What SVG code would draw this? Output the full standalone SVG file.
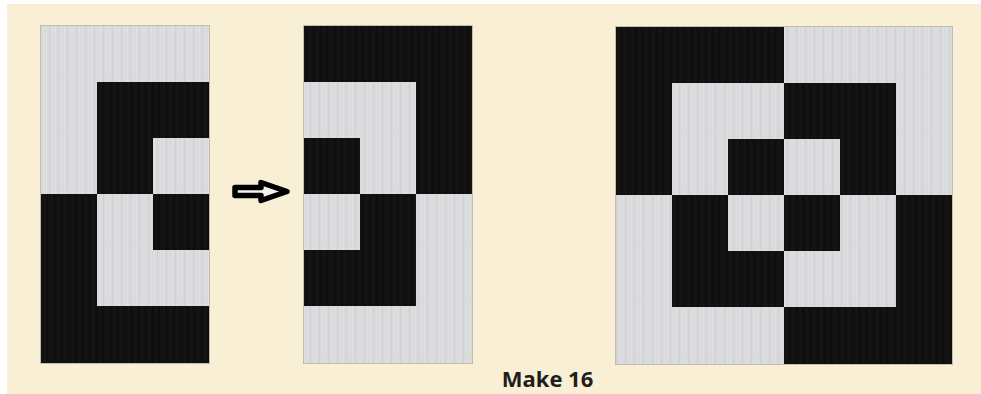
<svg xmlns="http://www.w3.org/2000/svg" width="981" height="394" viewBox="0 0 981 394">
<defs>
<pattern id="lt" patternUnits="userSpaceOnUse" width="9" height="56">
<rect width="9" height="56" fill="#d9dadc"/>
<rect x="1" width="1" height="56" fill="#e4e5e7" opacity="0.7"/>
<rect x="4" width="1" height="56" fill="#cbccd0" opacity="0.6"/>
<rect x="7" width="1" height="56" fill="#e1e2e4" opacity="0.6"/>
<rect x="0" y="20" width="9" height="1" fill="#cfd0d3" opacity="0.4"/>
</pattern>
<pattern id="dk" patternUnits="userSpaceOnUse" width="7" height="56">
<rect width="7" height="56" fill="#111111"/>
<rect x="2" width="1" height="56" fill="#181818" opacity="0.8"/>
<rect x="5" width="1" height="56" fill="#0b0b0b" opacity="0.8"/>
</pattern>
<style>
.l{fill:url(#lt)}
.d{fill:url(#dk)}
.frame{fill:none;stroke:#a9a79c;stroke-width:1;opacity:0.7}
.lbl{font-family:"Open Sans","Liberation Sans",sans-serif;font-weight:bold;font-size:22px;fill:#1e1e1e}
</style>
</defs>
<rect width="981" height="394" fill="#ffffff"/>
<rect x="7" y="4" width="974" height="390" fill="#f8efd4"/>

<g id="block-left">
<rect class="l" x="41" y="26" width="168" height="56"/>
<rect class="l" x="41" y="82" width="56" height="56"/>
<rect class="d" x="97" y="82" width="112" height="56"/>
<rect class="l" x="41" y="138" width="56" height="56"/>
<rect class="d" x="97" y="138" width="56" height="56"/>
<rect class="l" x="153" y="138" width="56" height="56"/>
<rect class="d" x="41" y="194" width="56" height="56"/>
<rect class="l" x="97" y="194" width="56" height="56"/>
<rect class="d" x="153" y="194" width="56" height="56"/>
<rect class="d" x="41" y="250" width="56" height="56"/>
<rect class="l" x="97" y="250" width="112" height="56"/>
<rect class="d" x="41" y="306" width="168" height="57"/>
<rect class="frame" x="40.5" y="25.5" width="169" height="338"/>
</g>

<g id="block-middle">
<rect class="d" x="304" y="26" width="168" height="56"/>
<rect class="l" x="304" y="82" width="112" height="56"/>
<rect class="d" x="416" y="82" width="56" height="56"/>
<rect class="d" x="304" y="138" width="56" height="56"/>
<rect class="l" x="360" y="138" width="56" height="56"/>
<rect class="d" x="416" y="138" width="56" height="56"/>
<rect class="l" x="304" y="194" width="56" height="56"/>
<rect class="d" x="360" y="194" width="56" height="56"/>
<rect class="l" x="416" y="194" width="56" height="56"/>
<rect class="d" x="304" y="250" width="112" height="56"/>
<rect class="l" x="416" y="250" width="56" height="56"/>
<rect class="l" x="304" y="306" width="168" height="57"/>
<rect class="frame" x="303.5" y="25.5" width="169" height="338"/>
</g>

<g id="block-right">
<rect class="d" x="616" y="27" width="168" height="56"/>
<rect class="l" x="784" y="27" width="168" height="56"/>
<rect class="d" x="616" y="83" width="56" height="56"/>
<rect class="l" x="672" y="83" width="112" height="56"/>
<rect class="d" x="784" y="83" width="112" height="56"/>
<rect class="l" x="896" y="83" width="56" height="56"/>
<rect class="d" x="616" y="139" width="56" height="56"/>
<rect class="l" x="672" y="139" width="56" height="56"/>
<rect class="d" x="728" y="139" width="56" height="56"/>
<rect class="l" x="784" y="139" width="56" height="56"/>
<rect class="d" x="840" y="139" width="56" height="56"/>
<rect class="l" x="896" y="139" width="56" height="56"/>
<rect class="l" x="616" y="195" width="56" height="56"/>
<rect class="d" x="672" y="195" width="56" height="56"/>
<rect class="l" x="728" y="195" width="56" height="56"/>
<rect class="d" x="784" y="195" width="56" height="56"/>
<rect class="l" x="840" y="195" width="56" height="56"/>
<rect class="d" x="896" y="195" width="56" height="56"/>
<rect class="l" x="616" y="251" width="56" height="56"/>
<rect class="d" x="672" y="251" width="112" height="56"/>
<rect class="l" x="784" y="251" width="112" height="56"/>
<rect class="d" x="896" y="251" width="56" height="56"/>
<rect class="l" x="616" y="307" width="168" height="57"/>
<rect class="d" x="784" y="307" width="168" height="57"/>
<rect class="frame" x="615.5" y="26.5" width="337" height="338"/>
</g>

<g id="connectors">
<path d="M235,187.5 L261,187.5 L261,182.5 L287,191.5 L261,200.5 L261,195.5 L235,195.5 Z" fill="#f4f2ea" stroke="#000" stroke-width="5.5" stroke-linejoin="round"/>
</g>

<g id="caption">
<text class="lbl" x="547.5" y="386.5" text-anchor="middle">Make 16</text>
</g>
</svg>
